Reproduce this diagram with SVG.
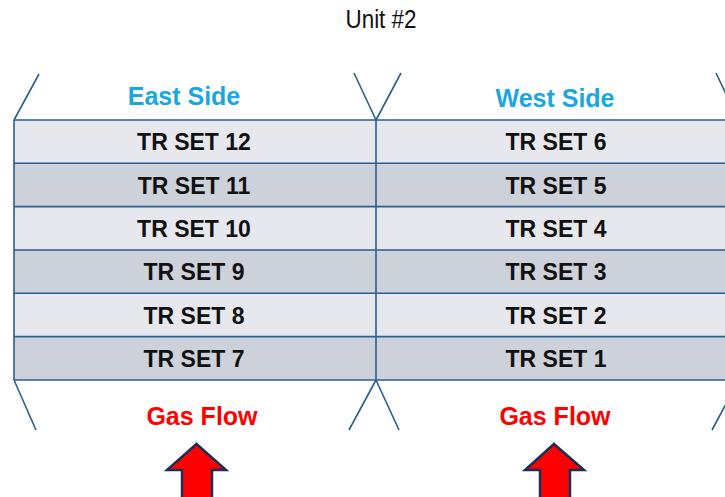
<svg xmlns="http://www.w3.org/2000/svg" width="725" height="497" viewBox="0 0 725 497">
<style>
.row-l{fill:#e7e8ed}
.row-d{fill:#cdd1da}
.ln{stroke:#2a5e8f;stroke-width:1.6;fill:none}
.tr{font-family:"Liberation Sans",Arial,sans-serif;font-weight:bold;font-size:23px;fill:#111;text-anchor:middle}
.side{font-family:"Liberation Sans",Arial,sans-serif;font-weight:bold;font-size:25px;fill:#1aa7e0;text-anchor:middle}
.gas{font-family:"Liberation Sans",Arial,sans-serif;font-weight:bold;font-size:25px;fill:#ff0000;text-anchor:middle}
.arrow{fill:#ff0000;stroke:#1b2f55;stroke-width:2.5;stroke-linejoin:miter}
</style>
<rect width="725" height="497" fill="#ffffff"/>
<text x="381" y="28" font-family="'Liberation Sans',Arial,sans-serif" font-size="25" fill="#111" text-anchor="middle" textLength="71" lengthAdjust="spacingAndGlyphs">Unit #2</text>
<g id="rows">
<rect class="row-l" x="14" y="120" width="711" height="43.3"/>
<rect class="row-d" x="14" y="163.3" width="711" height="43.3"/>
<rect class="row-l" x="14" y="206.6" width="711" height="43.4"/>
<rect class="row-d" x="14" y="250" width="711" height="43.3"/>
<rect class="row-l" x="14" y="293.3" width="711" height="43.3"/>
<rect class="row-d" x="14" y="336.6" width="711" height="43.4"/>
</g>
<g id="connectors">
<path class="ln" d="M14 120H725M14 163.3H725M14 206.6H725M14 250H725M14 293.3H725M14 336.6H725M14 380H725"/>
<path class="ln" d="M14 120V380M376 120V380"/>
<path class="ln" d="M14 120L39 74M376 120L354 73M376 120L401 73M716 73L727 96"/>
<path class="ln" d="M14 380L36 430M376 380L349 430M376 380L399 430M712 430L727 402"/>
</g>
<g id="east-header"><text class="side" x="184" y="105">East Side</text></g>
<g id="west-header"><text class="side" x="555" y="107">West Side</text></g>
<g id="tr12"><text class="tr" x="194" y="150">TR SET 12</text></g>
<g id="tr11"><text class="tr" x="194" y="193.5">TR SET 11</text></g>
<g id="tr10"><text class="tr" x="194" y="237">TR SET 10</text></g>
<g id="tr9"><text class="tr" x="194" y="280">TR SET 9</text></g>
<g id="tr8"><text class="tr" x="194" y="323.5">TR SET 8</text></g>
<g id="tr7"><text class="tr" x="194" y="367">TR SET 7</text></g>
<g id="tr6"><text class="tr" x="556" y="150">TR SET 6</text></g>
<g id="tr5"><text class="tr" x="556" y="193.5">TR SET 5</text></g>
<g id="tr4"><text class="tr" x="556" y="237">TR SET 4</text></g>
<g id="tr3"><text class="tr" x="556" y="280">TR SET 3</text></g>
<g id="tr2"><text class="tr" x="556" y="323.5">TR SET 2</text></g>
<g id="tr1"><text class="tr" x="556" y="367">TR SET 1</text></g>
<g id="gas-east"><text class="gas" x="202" y="425">Gas Flow</text>
<path class="arrow" d="M196.5 444L226 470H212V500H182V470H167Z"/></g>
<g id="gas-west"><text class="gas" x="555" y="425">Gas Flow</text>
<path class="arrow" d="M554 444L584 470H570V500H540V470H525Z"/></g>
</svg>
